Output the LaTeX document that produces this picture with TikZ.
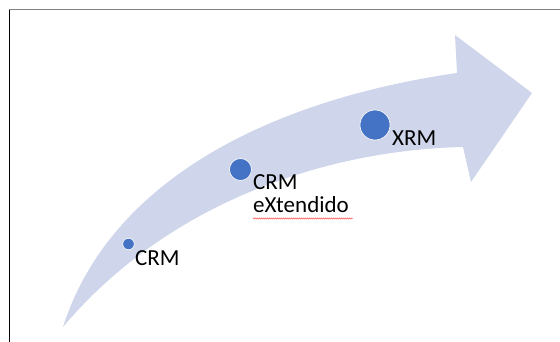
\documentclass[tikz,border=0pt]{standalone}
\usepackage{fontspec}
\setmainfont{Carlito}
\usetikzlibrary{decorations.pathmorphing}
\definecolor{band}{HTML}{CFD5EA}
\definecolor{dotblue}{HTML}{4472C4}
\begin{document}
\begin{tikzpicture}[x=1pt,y=-1pt]
		
		\tikzset{dot/.style = {shape=circle,fill=dotblue,draw=white,line width=0.6pt,inner sep=0pt}}
		\tikzset{lbl/.style = {anchor=base west,inner sep=0pt,align=left,font=\fontsize{23}{24}\selectfont}}
		\useasboundingbox (0,0) rectangle (560,342);
		% frame
		\draw[gray,line width=1pt] (9,10) -- (560,10);
		\draw[black,line width=1pt] (9.5,10) -- (9.5,342);
		% arrow
		\fill[band] (63,327) .. controls (110,180) and (270,100) .. (457,73)
			-- (455,35) -- (532,93) -- (471,182) -- (463,147)
			.. controls (330,150) and (170,200) .. (63,327) -- cycle;
		% stages
		\node[dot,minimum size=11.5pt] (A) at (128.5,244) {};
		\node[dot,minimum size=22pt] (B) at (240.5,169.5) {};
		\node[dot,minimum size=30pt] (C) at (375,125) {};
		\node[lbl] (a) at (135,265) {CRM};
		\node[lbl] (b) at (253,213) {CRM\\eXtendido};
		\node[lbl] (c) at (392,146) {XRM};
		\draw[red!80,line width=0.4pt,decorate,decoration={snake,segment length=2pt,amplitude=0.6pt}] (253,218.5) -- (353,218.5);
\end{tikzpicture}
\end{document}
